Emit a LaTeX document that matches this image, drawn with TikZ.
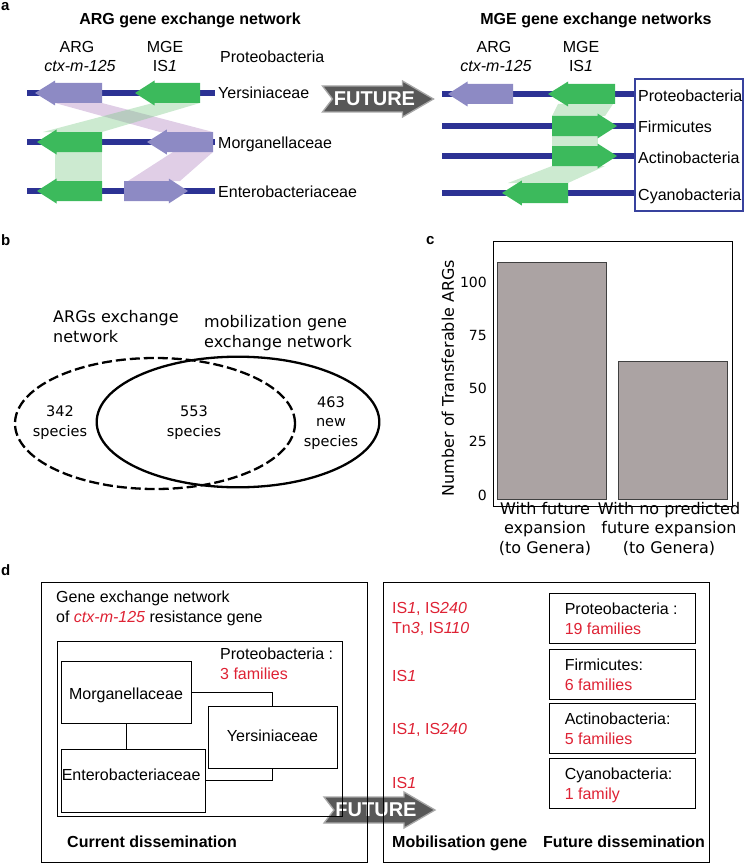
\documentclass[tikz,border=0pt]{standalone}
\usepackage{fontspec}
\setmainfont{Liberation Sans}
\newfontfamily\dejavu{DejaVu Sans}
\usepackage{xcolor}
\usetikzlibrary{positioning}

\definecolor{argpurple}{RGB}{141,138,196}
\definecolor{mgegreen}{RGB}{60,186,92}
\definecolor{dnablue}{RGB}{44,50,148}
\definecolor{boxblue}{RGB}{56,66,158}
\definecolor{famred}{RGB}{222,34,52}
\definecolor{barfill}{RGB}{171,163,163}
\definecolor{futgrey}{RGB}{88,88,88}
\definecolor{futedge}{RGB}{168,168,168}

\tikzset{
  lbl/.style={inner sep=0pt, font=\fontsize{16}{20}\selectfont},
  ttl/.style={inner sep=0pt, font=\fontsize{16}{20}\selectfont\bfseries},
  plet/.style={inner sep=0pt, font=\fontsize{15}{18}\selectfont\bfseries},
  venntxt/.style={inner sep=0pt, font=\dejavu\fontsize{16}{19.5}\selectfont},
  vennnum/.style={inner sep=0pt, align=center, font=\dejavu\fontsize{14.5}{19.5}\selectfont},
  plottxt/.style={inner sep=0pt, font=\dejavu\fontsize{16}{19.5}\selectfont},
  ticktxt/.style={inner sep=0pt, anchor=base east, font=\dejavu\fontsize{14}{17}\selectfont},
  dna/.style={dnablue, line width=6pt},
  purpleband/.style={fill={rgb,255:red,180;green,138;blue,196}, opacity=0.42},
  greenband/.style={fill={rgb,255:red,120;green,200;blue,132}, opacity=0.38},
  venn/.style={line width=2.3pt},
  famnode/.style={draw, line width=0.9pt, inner sep=0pt},
  futnode/.style={draw, line width=0.9pt, inner sep=0pt, minimum width=146pt, minimum height=50pt},
  futtxt/.style={inner sep=0pt, text=white, font=\fontsize{20}{24}\selectfont\bfseries},
  pics/future/.style={code={
    \fill[futgrey, draw=futedge, line width=1.3pt]
      (-55,-13) -- (25,-13) -- (25,-18) -- (56,0) -- (25,18) -- (25,13)
      -- (-55,13) -- (-45,0) -- cycle;
    \node[futtxt] (-txt) at (-3,0) {FUTURE};}}
}

% gene arrow: fill colour, tail x, tip x, y
\newcommand{\gene}[4]{%
  \pgfmathsetmacro\headx{#3+0.3*(#2-#3)}
  \fill[#1] (#2,#4-10) -- (\headx,#4-10) -- (\headx,#4-12.5) -- (#3,#4)
    -- (\headx,#4+12.5) -- (\headx,#4+10) -- (#2,#4+10) -- cycle;}

\begin{document}
\begin{tikzpicture}[x=1pt, y=-1pt]
    \useasboundingbox (0,0) rectangle (750,864);

    % panel a, left
    \node[plet, anchor=base west] (pa) at (1,11) {a};
    \node[ttl, anchor=base] (ttlarg) at (190,25) {ARG gene exchange network};
    \node[lbl, anchor=base] (argl) at (77,53) {ARG};
    \node[lbl, anchor=base] (argn) at (80,72) {\itshape ctx-m-125};
    \node[lbl, anchor=base] (mgel) at (165,53) {MGE};
    \node[lbl, anchor=base] (mgen) at (165,72) {IS\textit{1}};
    \node[lbl, anchor=base west] (phyl) at (220,63) {Proteobacteria};
    \foreach \y in {93,142,191}
    \draw[dna] (27,\y) -- (215,\y);
    \fill[purpleband] (55,103) -- (102,103) -- (213,132) -- (160,132) -- cycle;
    \fill[greenband] (153,103) -- (200,103) -- (102,132) -- (43,132) -- cycle;
    \fill[greenband] (55,152) rectangle (102,181);
    \fill[purpleband] (173,152) -- (213,152) -- (180,181) -- (128,181) -- cycle;
    \gene{argpurple}{102}{35}{93}
    \gene{mgegreen}{200}{135}{93}
    \gene{mgegreen}{102}{37}{142}
    \gene{argpurple}{213}{147}{142}
    \gene{mgegreen}{102}{37}{191}
    \gene{argpurple}{124}{188}{191}
    \foreach \fam/\y in {Yersiniaceae/99, Morganellaceae/148, Enterobacteriaceae/197}
    \node[lbl, anchor=base west] (\fam) at (218,\y) {\fam};

    \pic (futa) at (377.5,99) {future};

    % panel a, right
    \node[ttl, anchor=base] (ttlmge) at (596,25) {MGE gene exchange networks};
    \node[lbl, anchor=base] (argr) at (494,53) {ARG};
    \node[lbl, anchor=base] (argrn) at (496,72) {\itshape ctx-m-125};
    \node[lbl, anchor=base] (mger) at (581,53) {MGE};
    \node[lbl, anchor=base] (mgern) at (581,72) {IS\textit{1}};
    \foreach \y in {94,126,156,193}
    \draw[dna] (442,\y) -- (634,\y);
    \fill[greenband] (558,104) -- (613,104) -- (605,116) -- (552,116) -- cycle;
    \fill[greenband] (552,136) rectangle (598,146);
    \fill[greenband] (552,166) -- (605,166) -- (568,183) -- (508,183) -- cycle;
    \gene{argpurple}{513}{448}{94}
    \gene{mgegreen}{615}{548}{94}
    \gene{mgegreen}{552}{617}{126}
    \gene{mgegreen}{552}{617}{156}
    \gene{mgegreen}{568}{502}{193}
    \draw[boxblue, line width=1.3pt] (635,79) rectangle (743,211);
    \foreach \phy/\y in {Proteobacteria/102, Firmicutes/132, Actinobacteria/163, Cyanobacteria/200}
    \node[lbl, anchor=base west] (\phy) at (638,\y) {\phy};

    % panel b: Venn
    \node[plet, anchor=base west] (pb) at (1,245) {b};
    \draw[venn, dash pattern=on 10pt off 4pt] (155,423.5) ellipse [x radius=140pt, y radius=65.5pt];
    \draw[venn] (238,422) ellipse [x radius=141.3pt, y radius=65.3pt];
    \node[venntxt, align=left, anchor=base west] (argnet) at (53,342) {ARGs exchange\\network};
    \node[venntxt, align=left, anchor=base west] (mobnet) at (204,347) {mobilization gene\\exchange network};
    \node[vennnum, anchor=base] (onlyarg) at (60,436) {342\\species};
    \node[vennnum, anchor=base] (shared) at (194,436) {553\\species};
    \node[vennnum, anchor=base] (newsp) at (331,446) {463\\new\\species};

    % panel c: bars
    \node[plet, anchor=base west] (pc) at (426,244) {c};
    \draw[line width=0.9pt] (493,241) rectangle (732,506);
    \draw[fill=barfill, draw=black!75, line width=0.8pt] (497,262) rectangle (606,499);
    \draw[fill=barfill, draw=black!75, line width=0.8pt] (618,361) rectangle (727,499);
    \foreach \v in {0,25,...,100}
    \node[ticktxt] (tick\v) at (487,{500-2.128*\v}) {\v};
    \node[plottxt, rotate=90] (ylab) at (448,378) {Number of Transferable ARGs};
    \node[plottxt, align=center, anchor=base] (xfut) at (545,553) {With future\\expansion\\(to Genera)};
    \node[plottxt, align=center, anchor=base] (xnofut) at (669,553) {With no predicted\\future expansion\\(to Genera)};

    % panel d
    \node[plet, anchor=base west] (pd) at (1,575) {d};
    \pic (futd) at (379,810) {future};
    \draw[line width=0.9pt] (41,582) rectangle (367,862.5);
    \draw[line width=0.9pt] (57,641) rectangle (342,816);
    \node[lbl, align=left, anchor=base west] (gennet) at (56,622)
      {Gene exchange network\\of \textcolor{famred}{\itshape ctx-m-125} resistance gene};
    \node[lbl, align=left, anchor=base west] (curphy) at (220,679)
      {Proteobacteria :\\\textcolor{famred}{3 families}};
    \node[famnode, minimum width=130pt, minimum height=62pt] (morg) at (126,692) {};
    \node[famnode, minimum width=129pt, minimum height=62pt] (yers) at (272.5,737) {};
    \node[famnode, minimum width=144pt, minimum height=63pt] (entero) at (133,780.5) {};
    \node[lbl, anchor=base] (morgtxt) at ([yshift=-7pt]morg.center) {Morganellaceae};
    \node[lbl, anchor=base] (yerstxt) at ([yshift=-4.7pt]yers.center) {Yersiniaceae};
    \node[lbl, anchor=base west] (enterotxt) at ([xshift=1pt, yshift=-0.2pt]entero.west) {Enterobacteriaceae};
    \draw[line width=0.9pt] (morg.east) -| (yers.north);
    \draw[line width=0.9pt] (morg.south) -- (morg.south |- entero.north);
    \draw[line width=0.9pt] (entero.east) -| (yers.south);
    \node[ttl, anchor=base west] (curdis) at (67,847) {Current dissemination};

    \draw[line width=0.9pt] (383,582) rectangle (709,862.5);
    \foreach \mob/\y [count=\i] in {{IS\textit{1}, IS\textit{240}}/613, {Tn\textit{3}, IS\textit{110}}/633,
        {IS\textit{1}}/681, {IS\textit{1}, IS\textit{240}}/734, {IS\textit{1}}/788}
    \node[lbl, text=famred, anchor=base west] (mob\i) at (392,\y) {\mob};
    \foreach \phy/\fam/\y [count=\i] in {Proteobacteria :/19 families/618, Firmicutes:/6 families/674,
        Actinobacteria:/5 families/728, Cyanobacteria:/1 family/783}
    {
      \node[futnode] (fut\i) at (622,\y) {};
      \node[lbl, align=left, anchor=base west] (futtxt\i) at ([xshift=16pt, yshift=-16pt]fut\i.west)
        {\phy\\\textcolor{famred}{\fam}};
    }
    \node[ttl, anchor=base west] (mobgene) at (392,847) {Mobilisation gene};
    \node[ttl, anchor=base west] (futdis) at (543,847) {Future dissemination};
\end{tikzpicture}
\end{document}
